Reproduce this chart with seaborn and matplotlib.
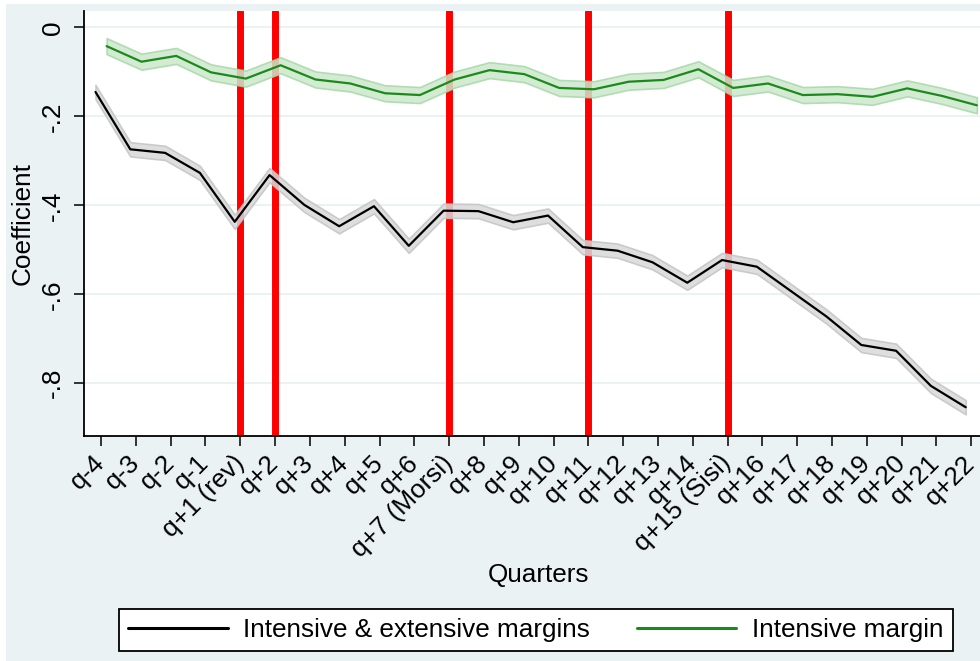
import matplotlib
matplotlib.use("Agg")
import matplotlib.pyplot as plt
import seaborn as sns
import pandas as pd
import numpy as np
from matplotlib.patches import Rectangle

# quarters relative to the event (there is no q+0)
quarters = ["q-4", "q-3", "q-2", "q-1", "q+1 (rev)", "q+2", "q+3", "q+4", "q+5",
            "q+6", "q+7 (Morsi)", "q+8", "q+9", "q+10", "q+11", "q+12", "q+13",
            "q+14", "q+15 (Sisi)", "q+16", "q+17", "q+18", "q+19", "q+20",
            "q+21", "q+22"]

# coefficients
both_margins = [-0.145, -0.274, -0.282, -0.327, -0.437, -0.332, -0.399, -0.447,
                -0.402, -0.491, -0.412, -0.413, -0.438, -0.423, -0.494, -0.502,
                -0.528, -0.574, -0.523, -0.538, -0.594, -0.650, -0.714, -0.727,
                -0.806, -0.854]
intensive = [-0.042, -0.077, -0.064, -0.101, -0.115, -0.085, -0.117, -0.126,
             -0.148, -0.152, -0.117, -0.096, -0.105, -0.136, -0.139, -0.122,
             -0.118, -0.094, -0.136, -0.126, -0.152, -0.150, -0.156, -0.137,
             -0.154, -0.175]
both_ci = 0.016
intensive_ci = 0.018

# quarters marked by the red lines
events = ["q+1 (rev)", "q+2", "q+7 (Morsi)", "q+11", "q+15 (Sisi)"]

panel = "#EAF2F3"
fs = 18.8
pos = np.arange(len(quarters))

df = pd.DataFrame({
    "x": np.concatenate([pos - 0.16, pos + 0.16]),
    "coef": both_margins + intensive,
    "series": ["Intensive & extensive margins"] * len(pos) + ["Intensive margin"] * len(pos),
})
df["lo"] = df["coef"] - np.where(df["series"] == "Intensive margin", intensive_ci, both_ci)
df["hi"] = df["coef"] + np.where(df["series"] == "Intensive margin", intensive_ci, both_ci)

sns.set_style("white")
plt.rcParams["font.family"] = ["Liberation Sans", "DejaVu Sans"]
plt.rcParams["font.size"] = fs
plt.rcParams["text.color"] = "black"
plt.rcParams["axes.labelcolor"] = "black"
plt.rcParams["xtick.color"] = "black"
plt.rcParams["ytick.color"] = "black"

fig = plt.figure(figsize=(9.8, 6.61), dpi=100)
fig.patches.append(Rectangle((6 / 980, 0), 1 - 6 / 980, 1 - 4 / 661,
                             transform=fig.transFigure, facecolor=panel,
                             edgecolor="none", zorder=-10))
ax = fig.add_axes([84 / 980, 1 - 435.7 / 661, 1 - 84 / 980, (435.7 - 11) / 661])
ax.set_facecolor("white")

palette = {"Intensive & extensive margins": "black", "Intensive margin": "#1b8a1b"}
bands = {"Intensive & extensive margins": ("#d9d9d9", "#c4c4c4"),
         "Intensive margin": ("#cce8cc", "#a8d8a8")}

for name, sub in df.groupby("series", sort=False):
    fc, ec = bands[name]
    ax.fill_between(sub["x"], sub["lo"], sub["hi"], facecolor=fc, edgecolor=ec,
                    linewidth=1.2, alpha=0.85, zorder=3)

for q in events:
    ax.axvline(quarters.index(q), color="#ff0000", linewidth=5, zorder=2)

sns.lineplot(data=df, x="x", y="coef", hue="series", palette=palette,
             linewidth=1.6, ax=ax, legend=False, zorder=4)

ax.set_xlim(-0.49, 25.25)
ax.set_ylim(-0.918, 0.037)
ax.set_yticks([0, -0.2, -0.4, -0.6, -0.8])
ax.set_yticklabels(["0", "-.2", "-.4", "-.6", "-.8"], rotation=90, va="center")
ax.set_xticks(pos)
ax.set_xticklabels(quarters, rotation=45, ha="right", va="center",
                   rotation_mode="anchor")
ax.yaxis.grid(True, color=panel, linewidth=1.5, zorder=0)
ax.set_axisbelow(True)

for side in ["top", "right"]:
    ax.spines[side].set_visible(False)
for side in ["left", "bottom"]:
    ax.spines[side].set_color("black")
    ax.spines[side].set_linewidth(1.3)
ax.tick_params(axis="both", which="major", length=7, width=1.1, color="black",
               labelcolor="black", direction="out", left=True, bottom=True,
               labelsize=fs)
ax.tick_params(axis="y", pad=7)
ax.tick_params(axis="x", pad=10)

ax.set_xlabel("Quarters", fontsize=fs, color="black")
ax.set_ylabel("Coefficient", fontsize=fs, color="black")
ax.xaxis.set_label_coords(0.507, -0.30)
ax.yaxis.set_label_coords(-0.055, 0.5)

handles = [plt.Line2D([], [], color=palette[k], linewidth=2.2) for k in palette]
leg = fig.legend(handles, list(palette), loc="center", bbox_to_anchor=(0.547, 0.047),
                 ncol=2, frameon=True, fancybox=False, edgecolor="black",
                 facecolor="white", framealpha=1, fontsize=fs, handlelength=3.8,
                 handletextpad=0.6, columnspacing=1.8, borderpad=0.35)
leg.get_frame().set_linewidth(1.3)
for t in leg.get_texts():
    t.set_color("black")

fig.savefig("out.png", dpi=100)
